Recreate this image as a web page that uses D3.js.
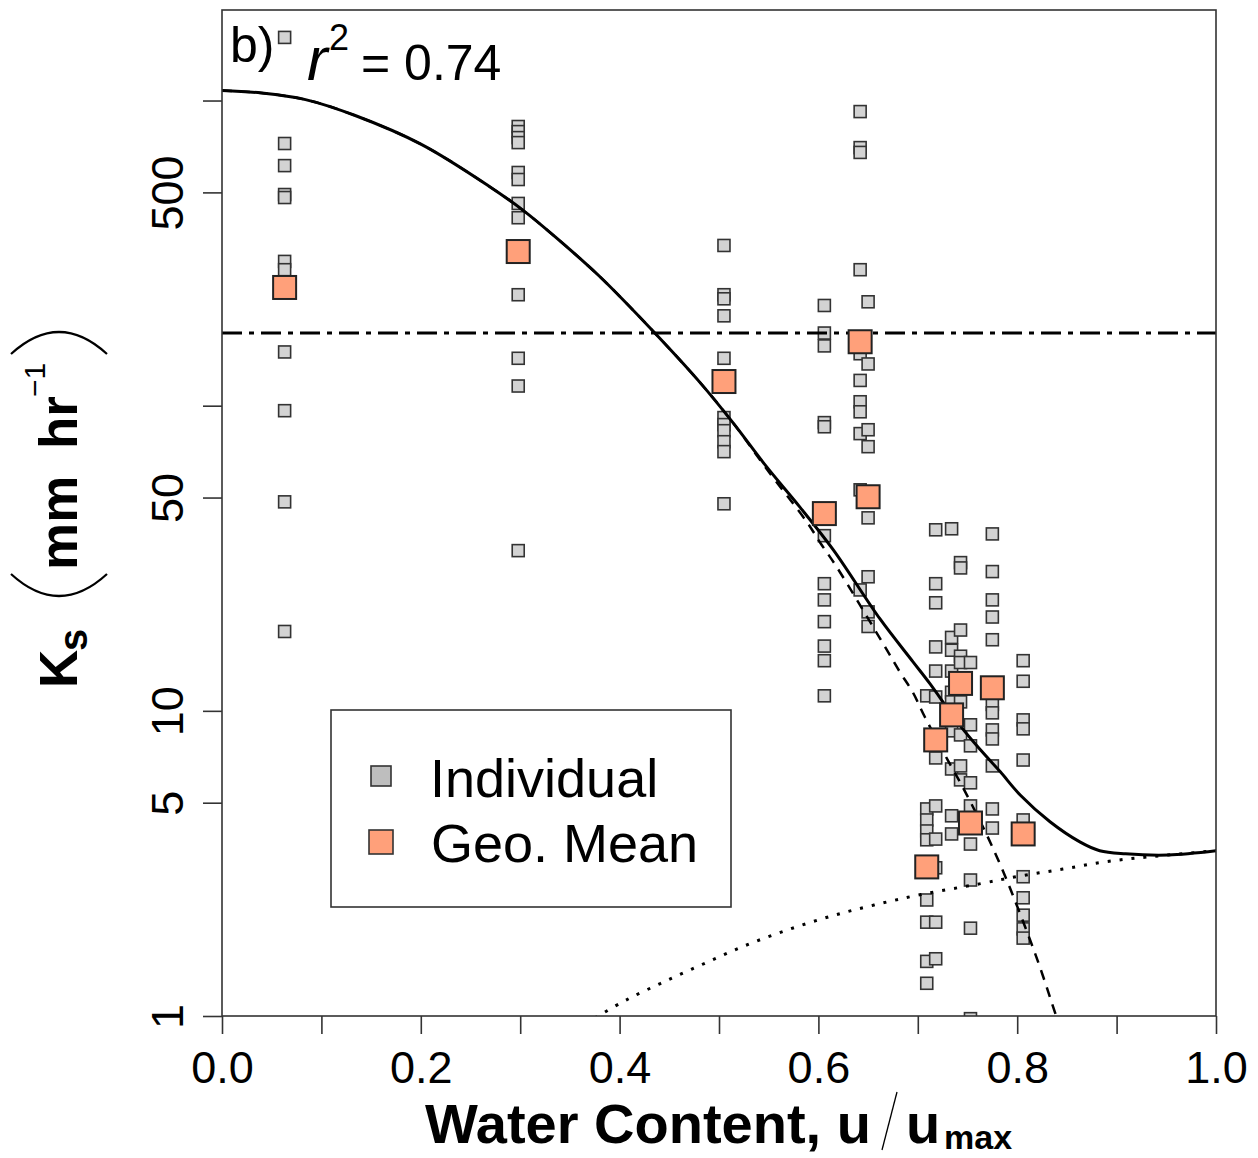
<!DOCTYPE html>
<html>
<head>
<meta charset="utf-8">
<script src="https://cdn.jsdelivr.net/npm/d3@7"></script>
<style>
body { margin: 0; background: #fff; }
svg { display: block; font-family: "Liberation Sans", Arial, sans-serif; }
</style>
</head>
<body>
<svg id="chart" width="1258" height="1158"></svg>
<script>
// relative water content of each sampling group
const siteU = [0.063, 0.298, 0.505, 0.606, 0.642, 0.650, 0.709, 0.718, 0.734, 0.743, 0.753, 0.775, 0.806];

// individual Ks values (mm/hr) per group
const indKs = [
  [1610, 723, 612, 492, 481, 297, 279, 150, 96.3, 48.4, 18.2],
  [822, 791, 756, 728, 581, 551, 460, 413, 231, 143, 116, 33.5],
  [335, 231, 224, 197, 143, 91.4, 86.7, 82.8, 76.2, 70.7, 47.7],
  [213, 173, 157, 88, 85.3, 37.5, 26.1, 23.1, 19.6, 16.3, 14.6, 11.2],
  [920, 701, 676, 279, 148, 121, 103, 95.5, 81, 53, 24.9],
  [219, 137, 83.4, 73.4, 42.9, 27.5, 21.1, 18.9],
  [11.2, 4.77, 4.39, 4.04, 3.78, 2.40, 2.03, 1.51, 1.28],
  [39.2, 26.1, 22.6, 16.2, 13.5, 11.1, 7.01, 4.88, 3.80, 3.06, 2.03, 1.54],
  [39.5, 17.4, 15.8, 13.5, 11.5, 10.7, 8.6, 6.45, 4.53, 3.95],
  [30.6, 29.4, 18.4, 15.1, 14.4, 10.7, 8.34, 6.6, 5.94],
  [14.4, 9.0, 7.68, 5.81, 4.88, 3.66, 2.79, 1.94, 0.98],
  [38.0, 28.6, 23.1, 20.3, 17.1, 10.5, 9.85, 8.66, 8.09, 6.6, 4.77, 4.13],
  [14.6, 12.5, 9.34, 8.73, 6.9, 4.39, 2.86, 2.44, 2.14, 1.93, 1.80]
];

// geometric means per group
const meanKs = [244, 320, 120, 44.3, 162, 50.3, 3.08, 8.03, 9.7, 12.3, 4.29, 11.9, 3.95];

// fitted model (solid), matrix part (dashed), texture part (dotted)
const fitU = [0, 0.040, 0.084, 0.134, 0.201, 0.269, 0.302, 0.335, 0.380, 0.434, 0.481, 0.514, 0.548, 0.581, 0.615, 0.662, 0.695, 0.712, 0.742, 0.763, 0.783, 0.803, 0.833, 0.863, 0.883, 0.909, 0.952, 1.0];
const fitKs = [1078, 1058, 1007, 893, 717, 523, 439, 358, 265, 175, 119, 88, 63, 46.7, 33.7, 20.0, 14.5, 12.3, 9.0, 7.45, 6.31, 5.30, 4.33, 3.72, 3.48, 3.40, 3.37, 3.48];

const matrixU = [0, 0.040, 0.084, 0.134, 0.201, 0.269, 0.302, 0.335, 0.380, 0.434, 0.481, 0.514, 0.548, 0.589, 0.602, 0.619, 0.669, 0.682, 0.695, 0.707, 0.730, 0.744, 0.768, 0.786, 0.796, 0.816, 0.826, 0.835, 0.843];
const matrixKs = [1078, 1058, 1007, 893, 717, 523, 439, 358, 265, 175, 119, 88, 62, 41.3, 35.5, 29.4, 15.8, 13.4, 11.5, 9.56, 6.91, 5.72, 4.01, 2.97, 2.47, 1.67, 1.35, 1.10, 0.92];

const textureU = [0.375, 0.407, 0.446, 0.488, 0.530, 0.572, 0.614, 0.656, 0.703, 0.762, 0.804, 0.846, 0.888, 0.931, 1.0];
const textureKs = [0.985, 1.13, 1.30, 1.50, 1.72, 1.93, 2.13, 2.31, 2.50, 2.71, 2.88, 3.03, 3.20, 3.32, 3.48];

const refKs = 173; // dot-dash reference level

const xTicks = [0, 0.1, 0.2, 0.3, 0.4, 0.5, 0.6, 0.7, 0.8, 0.9, 1.0];
const yTicks = [1, 5, 10, 50, 100, 500, 1000];
const yLabelled = [1, 5, 10, 50, 500];

const svg = d3.select("#chart");
const plot = { left: 222, right: 1216, top: 10, bottom: 1016 };

const x = d3.scaleLinear([0, 1], [plot.left, plot.right]);
const y = d3.scaleLog([1, 1980], [plot.bottom, plot.top]);

svg.append("clipPath").attr("id", "clip")
  .append("rect")
  .attr("x", plot.left).attr("y", plot.top)
  .attr("width", plot.right - plot.left).attr("height", plot.bottom - plot.top);

const points = [];
siteU.forEach((u, i) => indKs[i].forEach(k => points.push({ u: u, ks: k })));

const inner = svg.append("g").attr("clip-path", "url(#clip)");

inner.selectAll("rect.ind")
  .data(points)
  .join("rect")
  .attr("class", "ind")
  .attr("x", d => x(d.u) - 6)
  .attr("y", d => y(d.ks) - 6)
  .attr("width", 12).attr("height", 12)
  .attr("fill", "#d3d3d3")
  .attr("stroke", "#333")
  .attr("stroke-width", 1.6);

const line = d3.line()
  .x(d => x(d[0]))
  .y(d => y(d[1]))
  .curve(d3.curveCatmullRom.alpha(0.5));

inner.append("path")
  .datum(d3.zip(matrixU, matrixKs))
  .attr("d", line)
  .attr("fill", "none").attr("stroke", "#000")
  .attr("stroke-width", 2.5).attr("stroke-dasharray", "10,8");

inner.append("path")
  .datum(d3.zip(textureU, textureKs))
  .attr("d", line)
  .attr("fill", "none").attr("stroke", "#000")
  .attr("stroke-width", 3).attr("stroke-dasharray", "3,9");

inner.append("path")
  .datum(d3.zip(fitU, fitKs))
  .attr("d", line)
  .attr("fill", "none").attr("stroke", "#000")
  .attr("stroke-width", 3);

inner.append("line")
  .attr("x1", x(0)).attr("x2", x(1))
  .attr("y1", y(refKs)).attr("y2", y(refKs))
  .attr("stroke", "#000").attr("stroke-width", 3)
  .attr("stroke-dasharray", "20,7,5,7");

inner.selectAll("rect.mean")
  .data(d3.zip(siteU, meanKs))
  .join("rect")
  .attr("class", "mean")
  .attr("x", d => x(d[0]) - 11.5)
  .attr("y", d => y(d[1]) - 11.5)
  .attr("width", 23).attr("height", 23)
  .attr("fill", "#ffa07a")
  .attr("stroke", "#222")
  .attr("stroke-width", 2);

// axes
const xAxis = svg.append("g")
  .attr("transform", "translate(0," + plot.bottom + ")")
  .call(d3.axisBottom(x)
    .tickValues(xTicks)
    .tickSize(18)
    .tickPadding(17)
    .tickFormat((d, i) => (i % 2 === 0 ? d3.format(".1f")(d) : "")));

const yAxis = svg.append("g")
  .attr("transform", "translate(" + plot.left + ",0)")
  .call(d3.axisLeft(y)
    .tickValues(yTicks)
    .tickSize(19)
    .tickFormat(d => (yLabelled.includes(d) ? d : "")));

yAxis.selectAll(".tick text")
  .attr("x", null).attr("dy", null)
  .attr("text-anchor", "middle")
  .attr("transform", "translate(-39,0) rotate(-90)");

[xAxis, yAxis].forEach(g => {
  g.select(".domain").remove();
  g.selectAll(".tick line").attr("stroke", "#333").attr("stroke-width", 1.6);
  g.selectAll(".tick text")
    .attr("fill", "#000")
    .style("font-size", "45px")
    .style("font-family", "'Liberation Sans', Arial, sans-serif");
});

svg.append("rect")
  .attr("x", plot.left).attr("y", plot.top)
  .attr("width", plot.right - plot.left).attr("height", plot.bottom - plot.top)
  .attr("fill", "none").attr("stroke", "#333").attr("stroke-width", 1.6);

// panel tag and r squared
svg.append("text").attr("x", 230).attr("y", 62)
  .style("font-size", "50px").text("b)");
svg.append("text").attr("x", 307).attr("y", 80)
  .style("font-size", "62px").style("font-style", "italic").text("r");
svg.append("text").attr("x", 329).attr("y", 50)
  .style("font-size", "36px").text("2");
svg.append("text").attr("x", 361).attr("y", 80)
  .style("font-size", "50px").text("= 0.74");

// legend
const legend = svg.append("g");
legend.append("rect")
  .attr("x", 331).attr("y", 710).attr("width", 400).attr("height", 197)
  .attr("fill", "#fff").attr("stroke", "#333").attr("stroke-width", 1.6);
legend.append("rect")
  .attr("x", 371).attr("y", 766).attr("width", 20).attr("height", 20)
  .attr("fill", "#bebebe").attr("stroke", "#333").attr("stroke-width", 1.6);
legend.append("rect")
  .attr("x", 369).attr("y", 830).attr("width", 24).attr("height", 24)
  .attr("fill", "#ffa07a").attr("stroke", "#333").attr("stroke-width", 1.6);
legend.append("text").attr("x", 430).attr("y", 797)
  .style("font-size", "54px").text("Individual");
legend.append("text").attr("x", 431).attr("y", 862)
  .style("font-size", "54px").text("Geo. Mean");

// x title
svg.append("text").attr("x", 425).attr("y", 1143)
  .style("font-size", "56px").style("font-weight", "bold")
  .text("Water Content, u");
svg.append("line")
  .attr("x1", 882).attr("y1", 1150).attr("x2", 897).attr("y2", 1092)
  .attr("stroke", "#000").attr("stroke-width", 1.3);
svg.append("text").attr("x", 906).attr("y", 1143)
  .style("font-size", "56px").style("font-weight", "bold").text("u");
svg.append("text").attr("x", 944).attr("y", 1149)
  .style("font-size", "34px").style("font-weight", "bold").text("max");

// y title
const yTitle = svg.append("g").attr("transform", "translate(77,688) rotate(-90)");
yTitle.append("text").attr("x", 0).attr("y", 0)
  .style("font-size", "53px").style("font-weight", "bold").text("K");
yTitle.append("text").attr("x", 37).attr("y", 10)
  .style("font-size", "40px").style("font-weight", "bold").text("s");
yTitle.append("path")
  .attr("d", "M114,-66 Q70,-18 114,30")
  .attr("fill", "none").attr("stroke", "#000").attr("stroke-width", 2.2);
yTitle.append("text").attr("x", 118).attr("y", 0)
  .style("font-size", "53px").style("font-weight", "bold").text("mm");
yTitle.append("text").attr("x", 239).attr("y", 0)
  .style("font-size", "53px").style("font-weight", "bold").text("hr");
yTitle.append("text").attr("x", 291).attr("y", -32)
  .style("font-size", "30px").text("\u22121");
yTitle.append("path")
  .attr("d", "M334,-66 Q378,-18 334,30")
  .attr("fill", "none").attr("stroke", "#000").attr("stroke-width", 2.2);
</script>
</body>
</html>
